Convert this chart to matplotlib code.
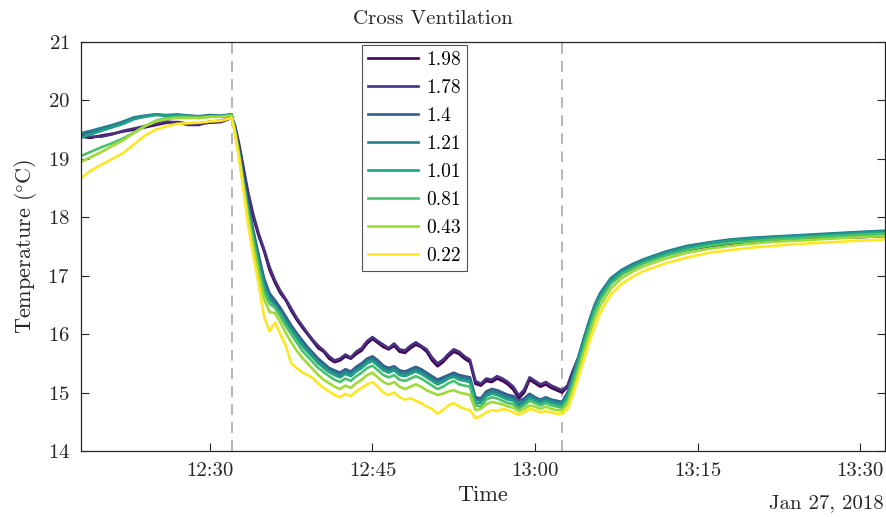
import pandas as pd
import matplotlib
matplotlib.use("Agg")
import matplotlib.pyplot as plt
import matplotlib.dates as mdates

plt.rcParams['font.family'] = ['cmr10', 'DejaVu Serif']
plt.rcParams['mathtext.fontset'] = 'cm'
plt.rcParams['axes.formatter.use_mathtext'] = True

# minutes after 12:00 on Jan 27, 2018
minutes = [18.1, 19, 20, 21, 22, 23, 24, 25, 26, 27, 28, 29, 30, 31, 32,
           32.3, 32.7, 33, 33.5, 34, 34.5, 35, 35.5, 36, 36.5, 37, 37.5, 38, 38.5, 39, 39.5, 40,
           40.5, 41, 41.5, 42, 42.5, 43, 43.5, 44, 44.5, 45, 45.5, 46, 46.5, 47, 47.5, 48, 48.5,
           49, 49.5, 50, 50.5, 51, 51.5, 52, 52.5, 53, 53.5, 54, 54.5, 55, 55.5, 56, 56.5, 57,
           57.5, 58, 58.5, 59, 59.5, 60, 60.5, 61, 61.5, 62, 62.5,
           63, 63.5, 64, 64.5, 65, 65.5, 66, 67, 68, 69, 70, 72, 74, 76, 78, 80, 82, 84, 86, 88, 90, 92.3]

labels = ['1.98', '1.78', '1.4', '1.21', '1.01', '0.81', '0.43', '0.22']
colors = ['#440154', '#46327e', '#365c8d', '#277f8e', '#1fa187', '#4ac16d', '#a0da39', '#fde725']

t_198 = [19.38, 19.36, 19.40, 19.43, 19.47, 19.50, 19.54, 19.58, 19.62, 19.63, 19.60, 19.60, 19.62, 19.63, 19.70,
         19.55, 19.20, 18.90, 18.40, 18.00, 17.68, 17.42, 17.10, 16.88, 16.70, 16.58, 16.40, 16.25, 16.12, 16.00, 15.88, 15.76,
         15.70, 15.58, 15.52, 15.55, 15.62, 15.58, 15.66, 15.72, 15.84, 15.92, 15.85, 15.78, 15.74, 15.80, 15.70, 15.68,
         15.76, 15.82, 15.78, 15.70, 15.55, 15.45, 15.52, 15.62, 15.70, 15.66, 15.58, 15.52, 15.15, 15.12, 15.20, 15.18,
         15.24, 15.20, 15.14, 15.05, 14.90, 15.00, 15.22, 15.16, 15.10, 15.14, 15.08, 15.04, 15.00,
         15.10, 15.35, 15.55, 15.80, 16.10, 16.40, 16.62, 16.88, 17.04, 17.15, 17.24, 17.36, 17.44, 17.50, 17.54, 17.58,
         17.60, 17.62, 17.64, 17.65, 17.66, 17.68]
t_178 = [19.40, 19.38, 19.38, 19.42, 19.48, 19.52, 19.56, 19.60, 19.64, 19.62, 19.58, 19.58, 19.64, 19.65, 19.72,
         19.58, 19.25, 18.95, 18.45, 18.05, 17.72, 17.45, 17.15, 16.92, 16.74, 16.60, 16.44, 16.28, 16.15, 16.02, 15.90, 15.80,
         15.72, 15.62, 15.55, 15.58, 15.65, 15.60, 15.70, 15.76, 15.88, 15.95, 15.88, 15.82, 15.76, 15.84, 15.74, 15.72,
         15.80, 15.86, 15.80, 15.74, 15.60, 15.50, 15.56, 15.66, 15.74, 15.70, 15.62, 15.56, 15.20, 15.15, 15.24, 15.22,
         15.28, 15.24, 15.18, 15.10, 14.95, 15.05, 15.26, 15.20, 15.14, 15.18, 15.12, 15.08, 15.04,
         15.12, 15.38, 15.60, 15.85, 16.14, 16.42, 16.64, 16.90, 17.06, 17.17, 17.26, 17.38, 17.47, 17.53, 17.57, 17.61,
         17.63, 17.65, 17.67, 17.68, 17.70, 17.72]
t_140 = [19.42, 19.46, 19.52, 19.56, 19.62, 19.70, 19.73, 19.76, 19.74, 19.75, 19.74, 19.72, 19.74, 19.73, 19.76,
         19.52, 19.12, 18.78, 18.25, 17.78, 17.35, 16.95, 16.70, 16.58, 16.45, 16.30, 16.15, 16.02, 15.90, 15.78, 15.68, 15.58,
         15.50, 15.42, 15.38, 15.34, 15.40, 15.36, 15.44, 15.50, 15.58, 15.62, 15.55, 15.46, 15.42, 15.45, 15.38, 15.36,
         15.40, 15.44, 15.40, 15.34, 15.28, 15.22, 15.26, 15.30, 15.34, 15.30, 15.28, 15.26, 14.92, 14.90, 15.02, 15.06,
         15.04, 15.00, 14.96, 14.94, 14.86, 14.90, 14.98, 14.92, 14.88, 14.92, 14.88, 14.86, 14.84,
         15.00, 15.30, 15.60, 15.92, 16.22, 16.48, 16.68, 16.94, 17.08, 17.18, 17.27, 17.40, 17.50, 17.56, 17.61, 17.64,
         17.66, 17.68, 17.70, 17.72, 17.74, 17.76]
t_121 = [19.44, 19.48, 19.53, 19.58, 19.64, 19.71, 19.74, 19.76, 19.75, 19.76, 19.74, 19.73, 19.75, 19.74, 19.76,
         19.50, 19.10, 18.75, 18.20, 17.72, 17.28, 16.88, 16.64, 16.52, 16.40, 16.24, 16.10, 15.98, 15.85, 15.74, 15.64, 15.54,
         15.46, 15.38, 15.34, 15.30, 15.36, 15.32, 15.40, 15.46, 15.55, 15.58, 15.50, 15.42, 15.38, 15.42, 15.34, 15.32,
         15.36, 15.40, 15.36, 15.30, 15.24, 15.18, 15.22, 15.27, 15.30, 15.26, 15.24, 15.22, 14.88, 14.86, 14.98, 15.02,
         15.00, 14.96, 14.92, 14.90, 14.80, 14.86, 14.94, 14.90, 14.86, 14.90, 14.86, 14.84, 14.82,
         14.98, 15.28, 15.60, 15.92, 16.22, 16.50, 16.70, 16.96, 17.10, 17.20, 17.28, 17.41, 17.51, 17.57, 17.62, 17.65,
         17.67, 17.69, 17.71, 17.73, 17.75, 17.77]
t_101 = [19.36, 19.42, 19.48, 19.54, 19.60, 19.68, 19.72, 19.75, 19.74, 19.74, 19.73, 19.72, 19.73, 19.73, 19.75,
         19.48, 19.08, 18.72, 18.15, 17.66, 17.20, 16.82, 16.60, 16.48, 16.36, 16.20, 16.06, 15.94, 15.80, 15.70, 15.60, 15.50,
         15.42, 15.35, 15.30, 15.26, 15.32, 15.28, 15.36, 15.42, 15.50, 15.54, 15.46, 15.38, 15.34, 15.38, 15.30, 15.28,
         15.32, 15.36, 15.32, 15.26, 15.20, 15.14, 15.18, 15.24, 15.27, 15.22, 15.20, 15.18, 14.82, 14.82, 14.94, 14.98,
         14.96, 14.92, 14.88, 14.86, 14.76, 14.82, 14.90, 14.86, 14.82, 14.86, 14.82, 14.80, 14.78,
         14.94, 15.24, 15.55, 15.86, 16.16, 16.44, 16.64, 16.92, 17.06, 17.16, 17.25, 17.38, 17.48, 17.55, 17.60, 17.63,
         17.65, 17.67, 17.69, 17.71, 17.73, 17.75]
t_081 = [19.05, 19.12, 19.20, 19.27, 19.35, 19.45, 19.56, 19.65, 19.70, 19.72, 19.72, 19.70, 19.72, 19.72, 19.74,
         19.48, 19.06, 18.68, 18.10, 17.60, 17.12, 16.72, 16.52, 16.45, 16.30, 16.14, 16.00, 15.86, 15.72, 15.62, 15.52, 15.42,
         15.35, 15.28, 15.22, 15.18, 15.24, 15.20, 15.28, 15.34, 15.42, 15.46, 15.38, 15.30, 15.26, 15.30, 15.22, 15.20,
         15.24, 15.28, 15.24, 15.18, 15.12, 15.06, 15.10, 15.16, 15.20, 15.14, 15.12, 15.10, 14.78, 14.76, 14.88, 14.92,
         14.90, 14.86, 14.82, 14.80, 14.72, 14.78, 14.86, 14.82, 14.78, 14.82, 14.78, 14.76, 14.74,
         14.88, 15.16, 15.46, 15.78, 16.08, 16.36, 16.58, 16.86, 17.02, 17.12, 17.21, 17.34, 17.44, 17.51, 17.56, 17.59,
         17.62, 17.64, 17.66, 17.68, 17.70, 17.72]
t_043 = [18.95, 19.03, 19.12, 19.22, 19.32, 19.45, 19.56, 19.64, 19.68, 19.70, 19.70, 19.70, 19.72, 19.72, 19.74,
         19.46, 19.03, 18.62, 18.02, 17.50, 17.02, 16.60, 16.38, 16.36, 16.20, 16.02, 15.86, 15.72, 15.60, 15.50, 15.40, 15.30,
         15.22, 15.16, 15.10, 15.06, 15.12, 15.08, 15.16, 15.22, 15.30, 15.34, 15.26, 15.18, 15.14, 15.18, 15.10, 15.06,
         15.10, 15.14, 15.10, 15.04, 15.00, 14.96, 14.98, 15.02, 15.04, 15.00, 14.98, 14.96, 14.70, 14.72, 14.80, 14.84,
         14.82, 14.80, 14.76, 14.74, 14.68, 14.72, 14.78, 14.76, 14.72, 14.76, 14.72, 14.70, 14.70,
         14.80, 15.06, 15.36, 15.68, 15.98, 16.26, 16.48, 16.78, 16.96, 17.07, 17.16, 17.29, 17.39, 17.46, 17.51, 17.55,
         17.58, 17.60, 17.62, 17.64, 17.66, 17.68]
t_022 = [18.67, 18.80, 18.90, 19.00, 19.10, 19.25, 19.40, 19.50, 19.56, 19.60, 19.61, 19.62, 19.64, 19.65, 19.70,
         19.45, 19.00, 18.60, 17.90, 17.35, 16.85, 16.30, 16.05, 16.20, 16.00, 15.80, 15.50, 15.42, 15.35, 15.30, 15.25, 15.15,
         15.08, 15.02, 14.96, 14.92, 14.98, 14.94, 15.02, 15.08, 15.14, 15.18, 15.10, 15.00, 14.96, 15.00, 14.92, 14.88,
         14.90, 14.86, 14.82, 14.76, 14.72, 14.64, 14.70, 14.78, 14.82, 14.76, 14.72, 14.70, 14.56, 14.60, 14.66, 14.70,
         14.68, 14.72, 14.70, 14.66, 14.62, 14.66, 14.72, 14.70, 14.66, 14.68, 14.66, 14.64, 14.64,
         14.72, 14.96, 15.26, 15.56, 15.86, 16.12, 16.36, 16.68, 16.86, 16.98, 17.08, 17.21, 17.31, 17.39, 17.44, 17.48,
         17.51, 17.54, 17.56, 17.58, 17.60, 17.62]

series = [t_198, t_178, t_140, t_121, t_101, t_081, t_043, t_022]

# window open / close markers (minutes after 12:00)
events = [32.0, 62.5]

day = pd.Timestamp('2018-01-27 12:00')
times = day + pd.to_timedelta(minutes, unit='m')

fig = plt.figure(figsize=(8.87, 5.17), dpi=100)
ax = fig.add_axes([81 / 887, 66 / 517, 804 / 887, 409 / 517])

for ev in events:
    ax.axvline(day + pd.Timedelta(minutes=ev), color='#b0b0b0', ls=(0, (6, 4)), lw=1.3, zorder=1)

for vals, lab, col in zip(series, labels, colors):
    ax.plot(times, vals, color=col, lw=1.9, label=lab, zorder=2)

ax.set_xlim(day + pd.Timedelta(minutes=18.1), day + pd.Timedelta(minutes=92.3))
ax.set_ylim(14, 21)
ax.set_yticks(range(14, 22))
ax.xaxis.set_major_locator(mdates.MinuteLocator(byminute=[0, 15, 30, 45]))
ax.xaxis.set_major_formatter(mdates.DateFormatter('%H:%M'))

ax.tick_params(direction='in', length=6, width=0.8, top=True, right=True,
               labelsize=15, colors='#262626', pad=8)
ax.tick_params(axis='x', top=False)
for sp in ax.spines.values():
    sp.set_color('#262626')
    sp.set_linewidth(0.9)

ax.set_ylabel(r'Temperature ($\degree$C)', fontsize=16, color='#262626', labelpad=6)
ax.set_xlabel('Time', fontsize=16, color='#262626', labelpad=4)
fig.text(433 / 887, 1 - 19 / 517, 'Cross Ventilation', ha='center', va='center',
         fontsize=15, color='#262626')
fig.text(884 / 887, 1 - 503 / 517, 'Jan 27, 2018', ha='right', va='center',
         fontsize=15, color='#262626')

leg = ax.legend(loc='upper left', bbox_to_anchor=((362 - 81) / 804, (451 - 45) / 409),
                fontsize=14, frameon=True, fancybox=False, edgecolor='#262626',
                borderpad=0.3, labelspacing=0.52, handlelength=2.6, handletextpad=0.4,
                borderaxespad=0)
leg.get_frame().set_linewidth(0.8)

fig.savefig('out.png', dpi=100)
